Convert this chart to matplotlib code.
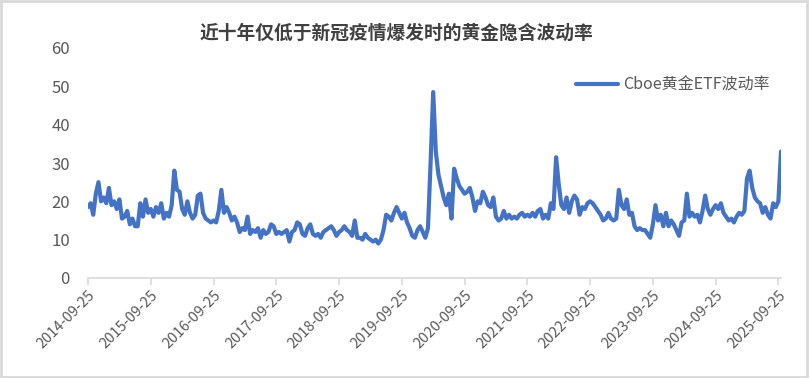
import matplotlib
matplotlib.use('Agg')
import matplotlib.pyplot as plt
import matplotlib.dates as mdates
from matplotlib.patches import Rectangle
import numpy as np
import pandas as pd

plt.rcParams['font.family'] = ['Noto Sans CJK SC', 'DejaVu Sans']

# half-month readings of the Cboe gold ETF volatility index, starting 2014-09-25
start_date = '2014-09-25'
vol_2014 = [18.5, 19.5, 16.5, 22, 25, 20, 21, 19.5, 23.5, 19, 20, 18,
            20.5, 15.5, 16, 17.5, 14, 15.5, 13.5, 13.5, 19.5, 16, 20.5, 17]
vol_2015 = [18, 16, 18.5, 17, 19.5, 15.5, 17, 16, 19, 28, 23, 22.5,
            18, 16.5, 20, 17, 15.5, 16.5, 21.5, 22, 17, 15.5, 15, 14.5]
vol_2016 = [15, 14.5, 17.5, 23, 17, 18.5, 17, 15, 16, 14.5, 12, 13,
            12.5, 16, 11.5, 12.5, 12, 13, 10.5, 12.5, 11.5, 12, 14, 13.5]
vol_2017 = [11.5, 12, 11.5, 12, 12.5, 9.5, 12, 12.5, 14.5, 14, 11.5, 11,
            13, 14, 11.5, 11, 11.5, 10.5, 12, 12.5, 13, 13.5, 12.5, 11]
vol_2018 = [12, 12.5, 13.5, 12.5, 12, 11, 15, 10.5, 10.5, 10, 11.5, 10.5,
            10, 9.5, 10, 9, 10, 12.5, 16.5, 16, 15, 17, 18.5, 17]
vol_2019 = [15.5, 17, 14.5, 13, 11, 10.5, 12.5, 13.5, 12, 10.5, 13, 30,
            48.5, 33, 27, 24, 21, 19, 22, 15.5, 28.5, 26, 24, 23]
vol_2020 = [22, 22.5, 23.5, 21, 17.5, 20, 19.5, 22.5, 21, 19, 18.5, 21,
            16, 15, 15.5, 17.5, 15.5, 16.5, 15.5, 16, 15.5, 16.5, 17, 16]
vol_2021 = [16.5, 16, 17, 16, 17.5, 18, 15.5, 16.5, 15.5, 19.5, 18, 31.5,
            24.5, 19, 18, 21, 17, 20, 21.5, 20.5, 16.5, 18.5, 18, 19.5]
vol_2022 = [20, 19.5, 18.5, 17.5, 16.5, 15, 15.5, 17, 15.5, 15, 15.5, 23,
            19, 18, 20.5, 16.5, 17, 13.5, 12.5, 13, 12.5, 12.5, 11.5, 10.5]
vol_2023 = [14, 19, 15, 16.5, 13.5, 17, 13.5, 15, 14, 12.5, 11, 14.5,
            15, 22, 16, 17, 16, 16.5, 14.5, 17.5, 21.5, 18, 16.5, 18]
vol_2024 = [19, 18, 19.5, 17, 16, 15, 15.5, 14.5, 16, 17, 16.5, 17.5,
            26, 28, 23.5, 21, 20, 19.5, 17, 18.5, 16.5, 15.5, 19.5, 18.5]
vol_2025 = [20, 33]

values = (vol_2014 + vol_2015 + vol_2016 + vol_2017 + vol_2018 + vol_2019
          + vol_2020 + vol_2021 + vol_2022 + vol_2023 + vol_2024 + vol_2025)
dates = pd.Timestamp(start_date) + pd.to_timedelta(np.arange(len(values)) * 365.25 / 24, unit='D')

tick_dates = pd.to_datetime([f'{y}-09-25' for y in range(2014, 2026)])

title = '近十年仅低于新冠疫情爆发时的黄金隐含波动率'
series_name = 'Cboe黄金ETF波动率'

fig = plt.figure(figsize=(8.09, 3.78), dpi=100)
ax = fig.add_axes([88 / 809, 1 - 278 / 378, (781 - 88) / 809, 230 / 378])

ax.plot(dates, values, color='#4472C4', linewidth=3.0, label=series_name,
        solid_joinstyle='round', solid_capstyle='round')

ax.set_ylim(0, 60)
ax.set_yticks(range(0, 61, 10))
ax.set_xlim(dates[0], dates[-1])
ax.set_xticks(tick_dates)
ax.xaxis.set_major_formatter(mdates.DateFormatter('%Y-%m-%d'))

for s in ['top', 'right', 'left']:
    ax.spines[s].set_visible(False)
ax.spines['bottom'].set_color('#d9d9d9')
ax.spines['bottom'].set_linewidth(1.2)

ax.tick_params(axis='y', length=0, pad=13, labelsize=12, labelcolor='#595959')
ax.tick_params(axis='x', length=5, width=1.2, color='#d9d9d9', pad=2,
               labelsize=10.5, labelcolor='#595959')
for lab in ax.get_xticklabels():
    lab.set_rotation(45)
    lab.set_ha('right')
    lab.set_rotation_mode('anchor')

fig.text(0.49, 1 - 33 / 378, title, ha='center', va='center',
         fontsize=13.5, fontweight='bold', color='#404040')

leg = ax.legend(loc='center left', bbox_to_anchor=(562 / 809, 1 - 85 / 378),
                bbox_transform=fig.transFigure, frameon=False, fontsize=11.5,
                handlelength=2.6, handletextpad=0.3)
for t in leg.get_texts():
    t.set_color('#595959')

fig.patches.append(Rectangle((0.001, 0.002), 0.996, 0.995, transform=fig.transFigure,
                             fill=False, edgecolor='#d9d9d9', linewidth=2))

plt.savefig('out.png', dpi=100)
plt.close()
